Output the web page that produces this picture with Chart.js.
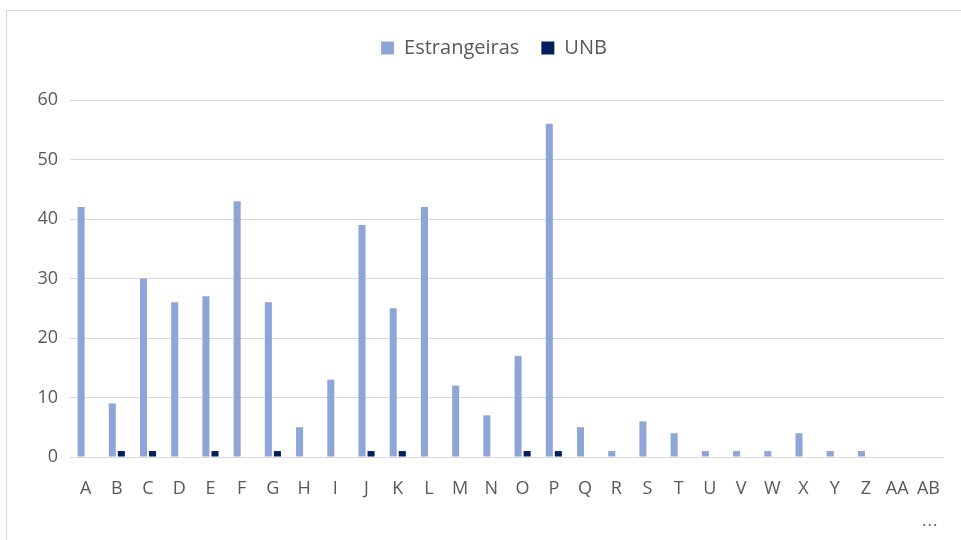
<!DOCTYPE html>
<html>
<head>
<meta charset="utf-8">
<script src="https://cdn.jsdelivr.net/npm/chart.js@4/dist/chart.umd.min.js"></script>
<style>
  html, body { margin: 0; padding: 0; background: #ffffff; }
  #wrap { position: relative; width: 961px; height: 540px; overflow: hidden; }
  #frame { position: absolute; left: 6px; top: 10px; width: 1000px; height: 600px;
           border: 1.5px solid #d9d9d9; box-sizing: border-box; }
  #c { position: absolute; left: 0; top: 0; }
  #more { position: absolute; left: 922px; top: 508px; font: 17px "Open Sans", sans-serif;
          color: #595959; letter-spacing: 1px; }
</style>
</head>
<body>
<div id="wrap">
  <div id="frame"></div>
  <canvas id="c" width="961" height="540"></canvas>
  <div id="more">...</div>
</div>
<script>
const categories = ['A','B','C','D','E','F','G','H','I','J','K','L','M','N',
                    'O','P','Q','R','S','T','U','V','W','X','Y','Z','AA','AB'];
const estrangeiras = [42, 9, 30, 26, 27, 43, 26, 5, 13, 39, 25, 42, 12, 7,
                      17, 56, 5, 1, 6, 4, 1, 1, 1, 4, 1, 1, 0, 0];
const unb = [0, 1, 1, 0, 1, 0, 1, 0, 0, 1, 1, 0, 0, 0,
             1, 1, 0, 0, 0, 0, 0, 0, 0, 0, 0, 0, 0, 0];
const yTicks = [0, 10, 20, 30, 40, 50, 60];

const textColor = '#595959';
const fontFamily = '"Open Sans", sans-serif';

// extra room between the legend and the plot area, legend nudged right
const legendPlacement = {
  id: 'legendPlacement',
  beforeInit(chart) {
    const fit = chart.legend.fit;
    chart.legend.fit = function () {
      fit.call(this);
      this.height += 32;
    };
  },
  afterLayout(chart) {
    chart.legend.left += 22;
    chart.legend.right += 22;
  }
};

new Chart(document.getElementById('c'), {
  type: 'bar',
  data: {
    labels: categories,
    datasets: [
      { label: 'Estrangeiras', data: estrangeiras, backgroundColor: '#8fa5d7' },
      { label: 'UNB', data: unb, backgroundColor: '#002060' }
    ]
  },
  plugins: [legendPlacement],
  options: {
    responsive: false,
    animation: false,
    devicePixelRatio: 1,
    categoryPercentage: 0.58,
    barPercentage: 0.78,
    layout: { padding: { top: 16, right: 17, bottom: 0, left: 0 } },
    plugins: {
      legend: {
        position: 'top',
        labels: {
          boxWidth: 13, boxHeight: 13, padding: 22,
          color: textColor,
          font: { family: fontFamily, size: 20 }
        }
      },
      tooltip: { enabled: false }
    },
    scales: {
      x: {
        grid: { display: false },
        border: { display: false },
        ticks: {
          color: textColor, padding: 13, maxRotation: 0, autoSkip: false,
          font: { family: fontFamily, size: 18 }
        },
        afterFit: s => { s.height = 83; }
      },
      y: {
        min: 0, max: 60,
        afterBuildTicks: s => { s.ticks = yTicks.map(v => ({ value: v })); },
        grid: { color: '#d9d9d9', lineWidth: 1, drawTicks: false },
        border: { display: false },
        ticks: {
          color: textColor, padding: 12,
          font: { family: fontFamily, size: 18 }
        },
        afterFit: s => { s.width = 70; }
      }
    }
  }
});
</script>
</body>
</html>
